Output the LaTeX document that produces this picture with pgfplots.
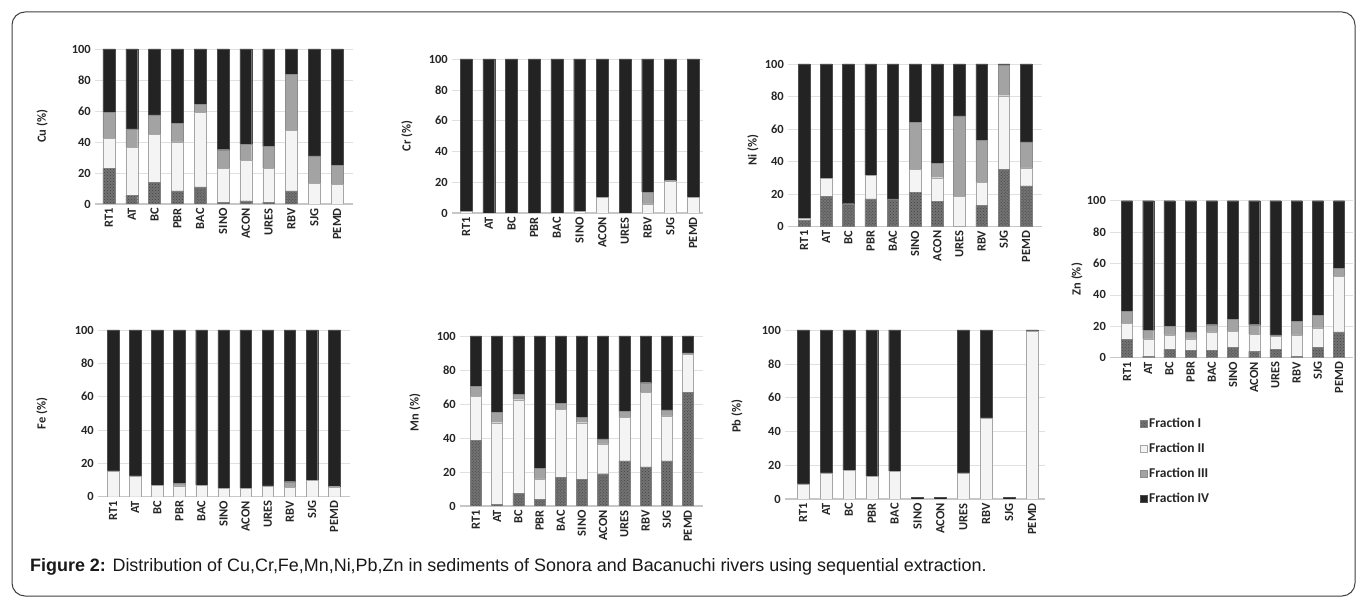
\documentclass[border=0pt]{standalone}
\usepackage{pgfplots}
\pgfplotsset{compat=1.18}
\usepackage{pgfplotstable}
\usepackage{fontspec}
\setmainfont{Carlito}
\newfontfamily\capfont{Liberation Sans}
\usetikzlibrary{patterns}
\definecolor{fI}{HTML}{737373}
\definecolor{fII}{HTML}{F4F4F4}
\definecolor{fIII}{HTML}{A3A3A3}
\definecolor{fIV}{HTML}{232323}

\pgfplotstableread{
s FI FII FIII FIV
RT1 23 19.5 16.5 41
AT 5.5 31 12 51.5
BC 14 31 12.5 42.5
PBR 8.5 31.5 12 48
BAC 11 48 5.5 35.5
SINO 1 22 12 65
ACON 2 26 10.5 61.5
URES 1 22 14 63
RBV 8.5 39 36 16.5
SJG 0 13.5 17.5 69
PEMD 0 12.5 12.5 75
}\Cu
\pgfplotstableread{
s FI FII FIII FIV
RT1 0 1 0 99
AT 0 0 0 100
BC 0 0 0 100
PBR 0 0 0 100
BAC 0 0 0 100
SINO 0 1 0 99
ACON 0 10 0 90
URES 0 0 0 100
RBV 0 6 7.5 86.5
SJG 0 21 0 79
PEMD 0 10 0 90
}\Cr
\pgfplotstableread{
s FI FII FIII FIV
RT1 4 1 0 95
AT 18.5 11 0 70.5
BC 14 0 0 86
PBR 17 14.5 0 68.5
BAC 17 0 0 83
SINO 21 14 29 36
ACON 15.5 14.5 9 61
URES 0 18.5 49.5 32
RBV 13 14 26 47
SJG 35 45.5 19 0.5
PEMD 25 11 16 48
}\Ni
\pgfplotstableread{
s FI FII FIII FIV
RT1 11.5 10.5 7.5 70.5
AT 1 11 5.5 82.5
BC 5.5 9 5.5 80
PBR 4.5 7.5 4.5 83.5
BAC 4.5 12 4.5 79
SINO 6.5 10.5 7.5 75.5
ACON 4 11 6 79
URES 5.5 8 1 85.5
RBV 1 13.5 8.5 77
SJG 6.5 12.5 8 73
PEMD 16.5 35.5 5 43
}\Zn
\pgfplotstableread{
s FI FII FIII FIV
RT1 0 15.5 0 84.5
AT 0 12.5 0 87.5
BC 0 7 0 93
PBR 0 6.5 1.5 92
BAC 0 7 0 93
SINO 0 5 0 95
ACON 0 5 0 95
URES 0 6.5 0 93.5
RBV 0 5.5 3.5 91
SJG 0 10 0 90
PEMD 0 6 0 94
}\Fe
\pgfplotstableread{
s FI FII FIII FIV
RT1 38.5 26 6 29.5
AT 1 48 6 45
BC 7.5 55 3 34.5
PBR 4 12 6 78
BAC 17 40 3.5 39.5
SINO 15.5 33.5 3 48
ACON 19 17.5 3 60.5
URES 26.5 25.5 3.5 44.5
RBV 23 44 5.5 27.5
SJG 26.5 26.5 3.5 43.5
PEMD 67 22.5 0.5 10
}\Mn
\pgfplotstableread{
s FI FII FIII FIV
RT1 0 9 0 91
AT 0 15.5 0 84.5
BC 0 17 0 83
PBR 0 13.5 0 86.5
BAC 0 16.5 0 83.5
SINO 0 0 0 0.8
ACON 0 0 0 0.8
URES 0 15.5 0 84.5
RBV 0 48 0 52
SJG 0 0 0 0.8
PEMD 0 99.5 0 0.5
}\Pb

\pgfplotsset{
  fracplot/.style={
    scale only axis, anchor=south west,
    ybar stacked, bar width=0.52,
    ymin=0, ymax=100, ytick={0,20,...,100},
    xtick={0,...,10},
    xticklabels={RT1,AT,BC,PBR,BAC,SINO,ACON,URES,RBV,SJG,PEMD},
    xticklabel style={rotate=90, anchor=east, text=black!85, inner sep=4bp, font=\fontsize{12.5}{12.5}\selectfont\bfseries},
    yticklabel style={text=black!85, inner sep=4bp, font=\fontsize{12.5}{13}\selectfont\bfseries},
    /pgf/number format/assume math mode=true,
    major tick length=0pt,
    axis lines*=left,
    y axis line style={draw=none},
    x axis line style={draw=black!22, line width=1.6pt},
    ymajorgrids, grid style={black!12},
    ylabel style={font=\fontsize{12.5}{13}\selectfont\bfseries, text=black!85, anchor=center},
    area legend,
  },
  sI/.style={fill=fI, draw=black!50, line width=0.3pt, postaction={pattern=crosshatch dots, pattern color=black!75}},
  sII/.style={fill=fII, draw=black!35, line width=0.3pt},
  sIII/.style={fill=fIII, draw=black!45, line width=0.3pt},
  sIV/.style={fill=fIV, draw=black!70, line width=0.3pt},
}
\newcommand\bars[1]{%
  \addplot[sI] table[x expr=\coordindex, y=FI]{#1};
  \addplot[sII] table[x expr=\coordindex, y=FII]{#1};
  \addplot[sIII] table[x expr=\coordindex, y=FIII]{#1};
  \addplot[sIV] table[x expr=\coordindex, y=FIV]{#1};
}

\begin{document}
\begin{tikzpicture}
\useasboundingbox (0,0) rectangle (1367bp,597bp);
\fill[white] (0,0) rectangle (1367bp,597bp);
\draw[black!75, line width=1bp, rounded corners=13bp] (12bp,1bp) rectangle (1355bp,585bp);

% Cu
\begin{axis}[fracplot, at={(95bp,393bp)}, width=258bp, height=155bp, xmin=-0.61, xmax=10.70,
  ylabel={Cu (\%)}, ylabel style={at={(axis description cs:-0.205,0.5)}}]
\bars{\Cu}
\end{axis}
% Cr
\begin{axis}[fracplot, at={(452bp,384bp)}, width=251bp, height=154bp, xmin=-0.62, xmax=10.44,
  ylabel={Cr (\%)}, ylabel style={at={(axis description cs:-0.18,0.5)}}]
\bars{\Cr}
\end{axis}
% Ni
\begin{axis}[fracplot, at={(788bp,370.5bp)}, width=254bp, height=162.5bp, xmin=-0.72, xmax=10.72,
  ylabel={Ni (\%)}, ylabel style={at={(axis description cs:-0.138,0.47)}}]
\bars{\Ni}
\end{axis}
% Zn
\begin{axis}[fracplot, at={(1110bp,239.3bp)}, width=243bp, height=157bp, xmin=-0.8, xmax=10.66,
  ylabel={Zn (\%)}, ylabel style={at={(axis description cs:-0.136,0.5)}},
  legend style={at={(axis description cs:0.11,-0.36)}, anchor=north west, draw=none, fill=none,
    font=\fontsize{13.5}{13.5}\selectfont\bfseries, text=black!85, row sep=10bp, legend cell align=left},
  legend image code/.code={\fill[#1] (0bp,-3.5bp) rectangle (7bp,3.5bp);}]
\bars{\Zn}
\legend{Fraction I, Fraction II, Fraction III, Fraction IV}
\end{axis}
% Fe
\begin{axis}[fracplot, at={(98bp,100.3bp)}, width=252bp, height=166.7bp, xmin=-0.68, xmax=10.72,
  ylabel={Fe (\%)}, ylabel style={at={(axis description cs:-0.222,0.5)}}]
\bars{\Fe}
\end{axis}
% Mn
\begin{axis}[fracplot, at={(460bp,91bp)}, width=243bp, height=170bp, xmin=-0.75, xmax=10.71,
  ylabel={Mn (\%)}, ylabel style={at={(axis description cs:-0.185,0.55)}}]
\bars{\Mn}
\end{axis}
% Pb
\begin{axis}[fracplot, at={(785bp,98bp)}, width=260bp, height=169bp, xmin=-0.79, xmax=10.57,
  ylabel={Pb (\%)}, ylabel style={at={(axis description cs:-0.185,0.49)}}]
\bars{\Pb}
\end{axis}

\node[anchor=west, inner sep=0pt, font=\capfont\fontsize{18}{20}\selectfont, text=black!90] at (30bp,30bp)
  {\textbf{Figure 2:} Distribution of Cu,Cr,Fe,Mn,Ni,Pb,Zn in sediments of Sonora and Bacanuchi rivers using sequential extraction.};
\end{tikzpicture}
\end{document}
